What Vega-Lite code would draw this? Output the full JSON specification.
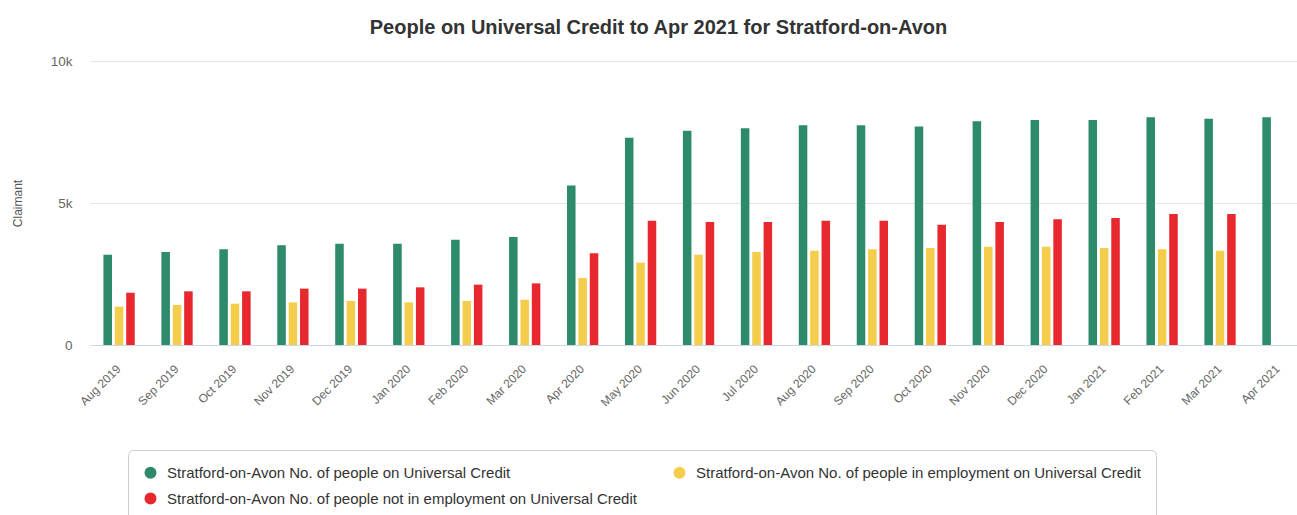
{
  "$schema": "https://vega.github.io/schema/vega-lite/v6.json",
  "width": 1207,
  "height": 284,
  "autosize": {"type": "none"},
  "padding": {"left": 90, "top": 61, "right": 0, "bottom": 170},
  "background": "white",
  "config": {
    "font": "Liberation Sans",
    "view": {"stroke": null}
  },
  "title": {
    "text": "People on Universal Credit to Apr 2021 for Stratford-on-Avon",
    "fontSize": 20,
    "fontWeight": "bold",
    "color": "#333333",
    "anchor": "middle",
    "dx": -35,
    "offset": 16
  },
  "data": {
    "values": [
      {"month": "Aug 2019", "series": "Stratford-on-Avon No. of people on Universal Credit", "value": 3180},
      {"month": "Aug 2019", "series": "Stratford-on-Avon No. of people in employment on Universal Credit", "value": 1350},
      {"month": "Aug 2019", "series": "Stratford-on-Avon No. of people not in employment on Universal Credit", "value": 1840},
      {"month": "Sep 2019", "series": "Stratford-on-Avon No. of people on Universal Credit", "value": 3275},
      {"month": "Sep 2019", "series": "Stratford-on-Avon No. of people in employment on Universal Credit", "value": 1410},
      {"month": "Sep 2019", "series": "Stratford-on-Avon No. of people not in employment on Universal Credit", "value": 1890},
      {"month": "Oct 2019", "series": "Stratford-on-Avon No. of people on Universal Credit", "value": 3370},
      {"month": "Oct 2019", "series": "Stratford-on-Avon No. of people in employment on Universal Credit", "value": 1455},
      {"month": "Oct 2019", "series": "Stratford-on-Avon No. of people not in employment on Universal Credit", "value": 1890},
      {"month": "Nov 2019", "series": "Stratford-on-Avon No. of people on Universal Credit", "value": 3510},
      {"month": "Nov 2019", "series": "Stratford-on-Avon No. of people in employment on Universal Credit", "value": 1500},
      {"month": "Nov 2019", "series": "Stratford-on-Avon No. of people not in employment on Universal Credit", "value": 1985},
      {"month": "Dec 2019", "series": "Stratford-on-Avon No. of people on Universal Credit", "value": 3565},
      {"month": "Dec 2019", "series": "Stratford-on-Avon No. of people in employment on Universal Credit", "value": 1550},
      {"month": "Dec 2019", "series": "Stratford-on-Avon No. of people not in employment on Universal Credit", "value": 1985},
      {"month": "Jan 2020", "series": "Stratford-on-Avon No. of people on Universal Credit", "value": 3565},
      {"month": "Jan 2020", "series": "Stratford-on-Avon No. of people in employment on Universal Credit", "value": 1500},
      {"month": "Jan 2020", "series": "Stratford-on-Avon No. of people not in employment on Universal Credit", "value": 2030},
      {"month": "Feb 2020", "series": "Stratford-on-Avon No. of people on Universal Credit", "value": 3710},
      {"month": "Feb 2020", "series": "Stratford-on-Avon No. of people in employment on Universal Credit", "value": 1550},
      {"month": "Feb 2020", "series": "Stratford-on-Avon No. of people not in employment on Universal Credit", "value": 2125},
      {"month": "Mar 2020", "series": "Stratford-on-Avon No. of people on Universal Credit", "value": 3800},
      {"month": "Mar 2020", "series": "Stratford-on-Avon No. of people in employment on Universal Credit", "value": 1595},
      {"month": "Mar 2020", "series": "Stratford-on-Avon No. of people not in employment on Universal Credit", "value": 2170},
      {"month": "Apr 2020", "series": "Stratford-on-Avon No. of people on Universal Credit", "value": 5620},
      {"month": "Apr 2020", "series": "Stratford-on-Avon No. of people in employment on Universal Credit", "value": 2360},
      {"month": "Apr 2020", "series": "Stratford-on-Avon No. of people not in employment on Universal Credit", "value": 3230},
      {"month": "May 2020", "series": "Stratford-on-Avon No. of people on Universal Credit", "value": 7300},
      {"month": "May 2020", "series": "Stratford-on-Avon No. of people in employment on Universal Credit", "value": 2900},
      {"month": "May 2020", "series": "Stratford-on-Avon No. of people not in employment on Universal Credit", "value": 4375},
      {"month": "Jun 2020", "series": "Stratford-on-Avon No. of people on Universal Credit", "value": 7545},
      {"month": "Jun 2020", "series": "Stratford-on-Avon No. of people in employment on Universal Credit", "value": 3180},
      {"month": "Jun 2020", "series": "Stratford-on-Avon No. of people not in employment on Universal Credit", "value": 4330},
      {"month": "Jul 2020", "series": "Stratford-on-Avon No. of people on Universal Credit", "value": 7630},
      {"month": "Jul 2020", "series": "Stratford-on-Avon No. of people in employment on Universal Credit", "value": 3275},
      {"month": "Jul 2020", "series": "Stratford-on-Avon No. of people not in employment on Universal Credit", "value": 4330},
      {"month": "Aug 2020", "series": "Stratford-on-Avon No. of people on Universal Credit", "value": 7735},
      {"month": "Aug 2020", "series": "Stratford-on-Avon No. of people in employment on Universal Credit", "value": 3320},
      {"month": "Aug 2020", "series": "Stratford-on-Avon No. of people not in employment on Universal Credit", "value": 4375},
      {"month": "Sep 2020", "series": "Stratford-on-Avon No. of people on Universal Credit", "value": 7735},
      {"month": "Sep 2020", "series": "Stratford-on-Avon No. of people in employment on Universal Credit", "value": 3370},
      {"month": "Sep 2020", "series": "Stratford-on-Avon No. of people not in employment on Universal Credit", "value": 4375},
      {"month": "Oct 2020", "series": "Stratford-on-Avon No. of people on Universal Credit", "value": 7690},
      {"month": "Oct 2020", "series": "Stratford-on-Avon No. of people in employment on Universal Credit", "value": 3415},
      {"month": "Oct 2020", "series": "Stratford-on-Avon No. of people not in employment on Universal Credit", "value": 4235},
      {"month": "Nov 2020", "series": "Stratford-on-Avon No. of people on Universal Credit", "value": 7875},
      {"month": "Nov 2020", "series": "Stratford-on-Avon No. of people in employment on Universal Credit", "value": 3460},
      {"month": "Nov 2020", "series": "Stratford-on-Avon No. of people not in employment on Universal Credit", "value": 4330},
      {"month": "Dec 2020", "series": "Stratford-on-Avon No. of people on Universal Credit", "value": 7920},
      {"month": "Dec 2020", "series": "Stratford-on-Avon No. of people in employment on Universal Credit", "value": 3460},
      {"month": "Dec 2020", "series": "Stratford-on-Avon No. of people not in employment on Universal Credit", "value": 4425},
      {"month": "Jan 2021", "series": "Stratford-on-Avon No. of people on Universal Credit", "value": 7920},
      {"month": "Jan 2021", "series": "Stratford-on-Avon No. of people in employment on Universal Credit", "value": 3415},
      {"month": "Jan 2021", "series": "Stratford-on-Avon No. of people not in employment on Universal Credit", "value": 4470},
      {"month": "Feb 2021", "series": "Stratford-on-Avon No. of people on Universal Credit", "value": 8020},
      {"month": "Feb 2021", "series": "Stratford-on-Avon No. of people in employment on Universal Credit", "value": 3370},
      {"month": "Feb 2021", "series": "Stratford-on-Avon No. of people not in employment on Universal Credit", "value": 4610},
      {"month": "Mar 2021", "series": "Stratford-on-Avon No. of people on Universal Credit", "value": 7970},
      {"month": "Mar 2021", "series": "Stratford-on-Avon No. of people in employment on Universal Credit", "value": 3320},
      {"month": "Mar 2021", "series": "Stratford-on-Avon No. of people not in employment on Universal Credit", "value": 4610},
      {"month": "Apr 2021", "series": "Stratford-on-Avon No. of people on Universal Credit", "value": 8020}
    ]
  },
  "mark": {"type": "bar"},
  "encoding": {
    "x": {
      "field": "month",
      "type": "nominal",
      "sort": null,
      "scale": {"paddingInner": 0.46, "paddingOuter": 0.145, "align": 0.8},
      "axis": {
        "title": null,
        "labelAngle": -45,
        "labelFontSize": 12,
        "labelColor": "#666666",
        "labelPadding": 18,
        "labelOffset": -4,
        "ticks": false,
        "domainColor": "#ccd6eb",
        "grid": false
      }
    },
    "xOffset": {
      "field": "series",
      "type": "nominal",
      "sort": [
        "Stratford-on-Avon No. of people on Universal Credit",
        "Stratford-on-Avon No. of people in employment on Universal Credit",
        "Stratford-on-Avon No. of people not in employment on Universal Credit"
      ],
      "scale": {"paddingInner": 0.25, "paddingOuter": 0}
    },
    "y": {
      "field": "value",
      "type": "quantitative",
      "scale": {"domain": [0, 10000], "nice": false},
      "axis": {
        "title": "Claimant",
        "titleFontSize": 12,
        "titleFontWeight": "normal",
        "titleColor": "#555555",
        "titlePadding": 26,
        "values": [0, 5000, 10000],
        "labelExpr": "datum.value == 0 ? '0' : format(datum.value, '~s')",
        "labelFontSize": 13.5,
        "labelColor": "#666666",
        "labelPadding": 18,
        "ticks": false,
        "domain": false,
        "grid": true,
        "gridColor": "#e6e6e6"
      }
    },
    "color": {
      "field": "series",
      "type": "nominal",
      "scale": {
        "domain": [
          "Stratford-on-Avon No. of people on Universal Credit",
          "Stratford-on-Avon No. of people not in employment on Universal Credit",
          "Stratford-on-Avon No. of people in employment on Universal Credit"
        ],
        "range": ["#2d8a6b", "#e7292f", "#f5cd4d"]
      },
      "legend": {
        "title": null,
        "orient": "none",
        "legendX": 38,
        "legendY": 389,
        "columns": 2,
        "columnPadding": 35,
        "rowPadding": 10,
        "symbolType": "circle",
        "symbolSize": 144,
        "symbolStrokeWidth": 0,
        "labelFontSize": 15,
        "labelColor": "#333333",
        "labelLimit": 700,
        "labelOffset": 9,
        "padding": 15,
        "strokeColor": "#cccccc",
        "cornerRadius": 5,
        "fillColor": "white"
      }
    }
  }
}
